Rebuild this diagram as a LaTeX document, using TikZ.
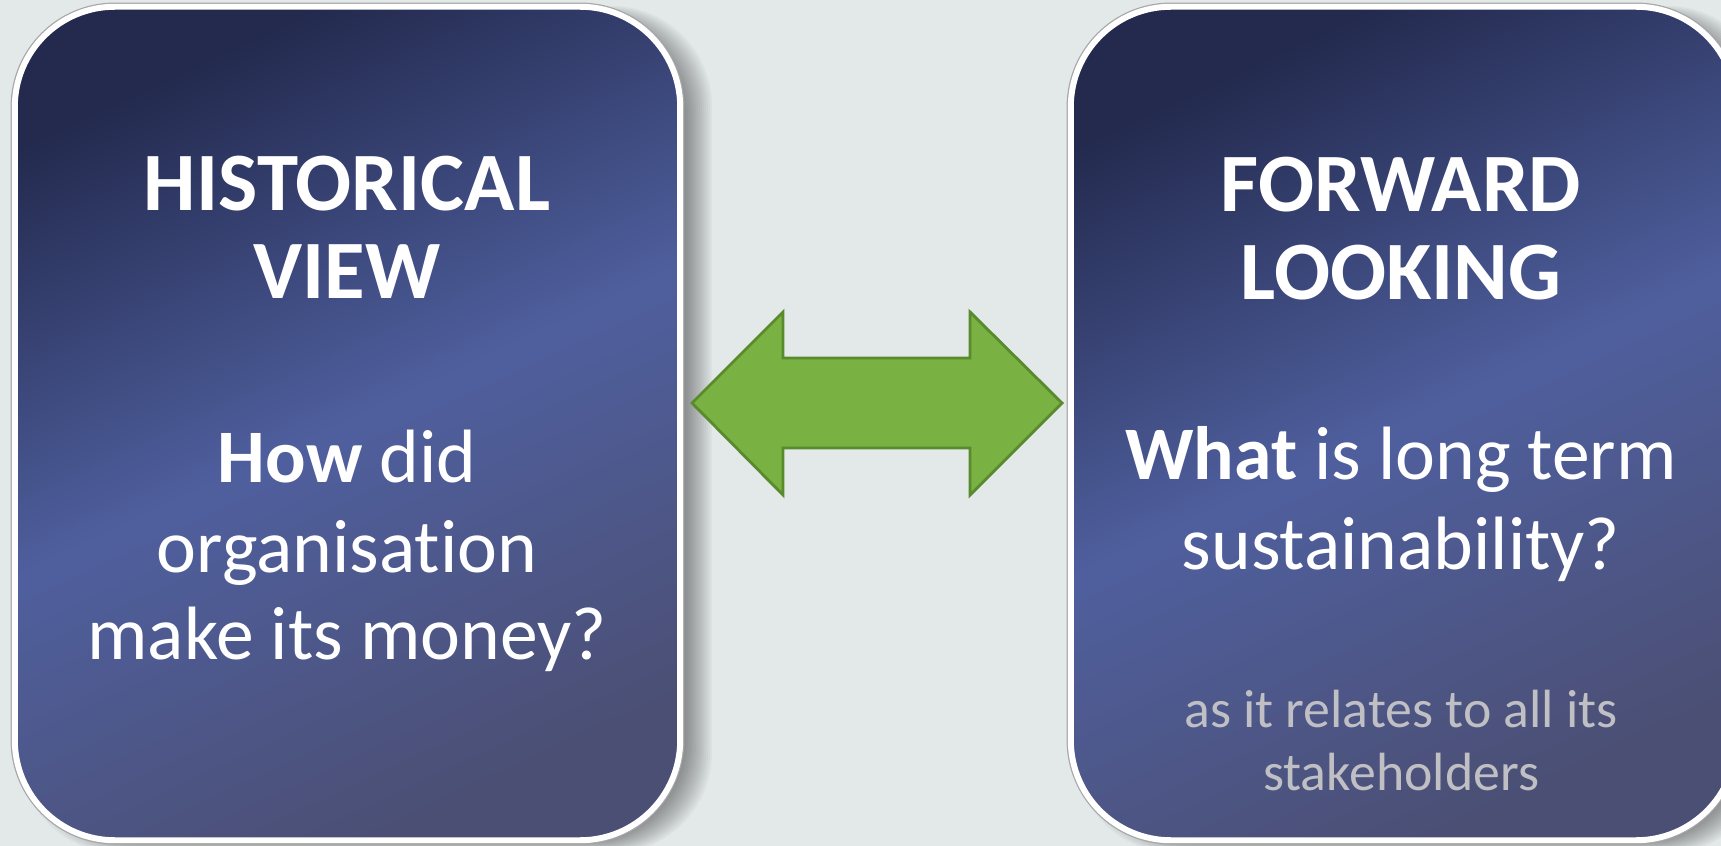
\documentclass[tikz,border=0pt]{standalone}
\usepackage{fontspec}
\setmainfont{Carlito}[Ligatures={NoCommon}]
\begin{document}
\begin{tikzpicture}[x=0.01cm,y=-0.01cm,
  panel/.style={rectangle, rounded corners=1cm, minimum width=6.65cm, minimum height=8.33cm, inner sep=0pt,
    top color=navytop, bottom color=navybot, middle color=navymid, shading angle=25,
    draw=white, line width=1.7pt, preaction={draw=black!35, line width=2.4pt}},
  bigtxt/.style={anchor=base, text=white, font=\fontsize{21.5}{25}\selectfont, inner sep=0pt},
  headtxt/.style={bigtxt, font=\fontsize{23.6}{27}\selectfont\bfseries},
  smalltxt/.style={anchor=base, text=softgray, font=\fontsize{15.3}{18}\selectfont, inner sep=0pt},
  shadowlayer/.style={fill=black, fill opacity=0.033, rounded corners=1cm}
]
\definecolor{bg}{HTML}{E3E9E9}
\definecolor{navytop}{HTML}{232A4E}
\definecolor{navymid}{HTML}{4F5F9E}
\definecolor{navybot}{HTML}{4B4F74}
\definecolor{softgray}{HTML}{BFBFC4}
\definecolor{arrowfill}{HTML}{79B142}
\definecolor{arrowline}{HTML}{5A8A2E}
\path[use as bounding box, clip] (0,0) rectangle (1721,846);
\fill[bg] (0,0) rectangle (1721,846);
% shadows
\foreach \k in {-14,-12,...,14}{
  \fill[shadowlayer] (15+18+\k, 7+6+0.5*\k) rectangle (680+18-\k, 840+6-0.5*\k);
  \fill[shadowlayer] (1071+18+\k, 7+6+0.5*\k) rectangle (1736+18-\k, 840+6-0.5*\k);
}
% panels
\node[panel] (left) at (347.5,423.5) {};
\node[panel] (right) at (1403.5,423.5) {};
% left texts
\node[headtxt] (l1) at (347,211) {HISTORICAL};
\node[headtxt] (l2) at (347,299) {VIEW};
\node[bigtxt] (l3) at (347,483) {\textbf{How} did};
\node[bigtxt] (l4) at (347,572) {organisation};
\node[bigtxt] (l5) at (347,659) {make its money?};
% right texts
\node[headtxt] (r1) at (1401,212) {FORWARD};
\node[headtxt] (r2) at (1401,300) {LOOKING};
\node[bigtxt] (r3) at (1401,480) {\textbf{What} is long term};
\node[bigtxt] (r4) at (1401,569) {sustainability?};
\node[smalltxt] (r5) at (1401,727) {as it relates to all its};
\node[smalltxt] (r6) at (1401,790) {stakeholders};
% double arrow
\coordinate (tipL) at (692,403);
\coordinate (tipR) at (1062,403);
\draw[fill=arrowfill, draw=arrowline, line width=0.8pt, line join=miter]
  (tipL) -- (783,312) -- (783,358) -- (970,358) -- (970,312) -- (tipR)
  -- (970,495) -- (970,448) -- (783,448) -- (783,495) -- cycle;
\end{tikzpicture}
\end{document}
